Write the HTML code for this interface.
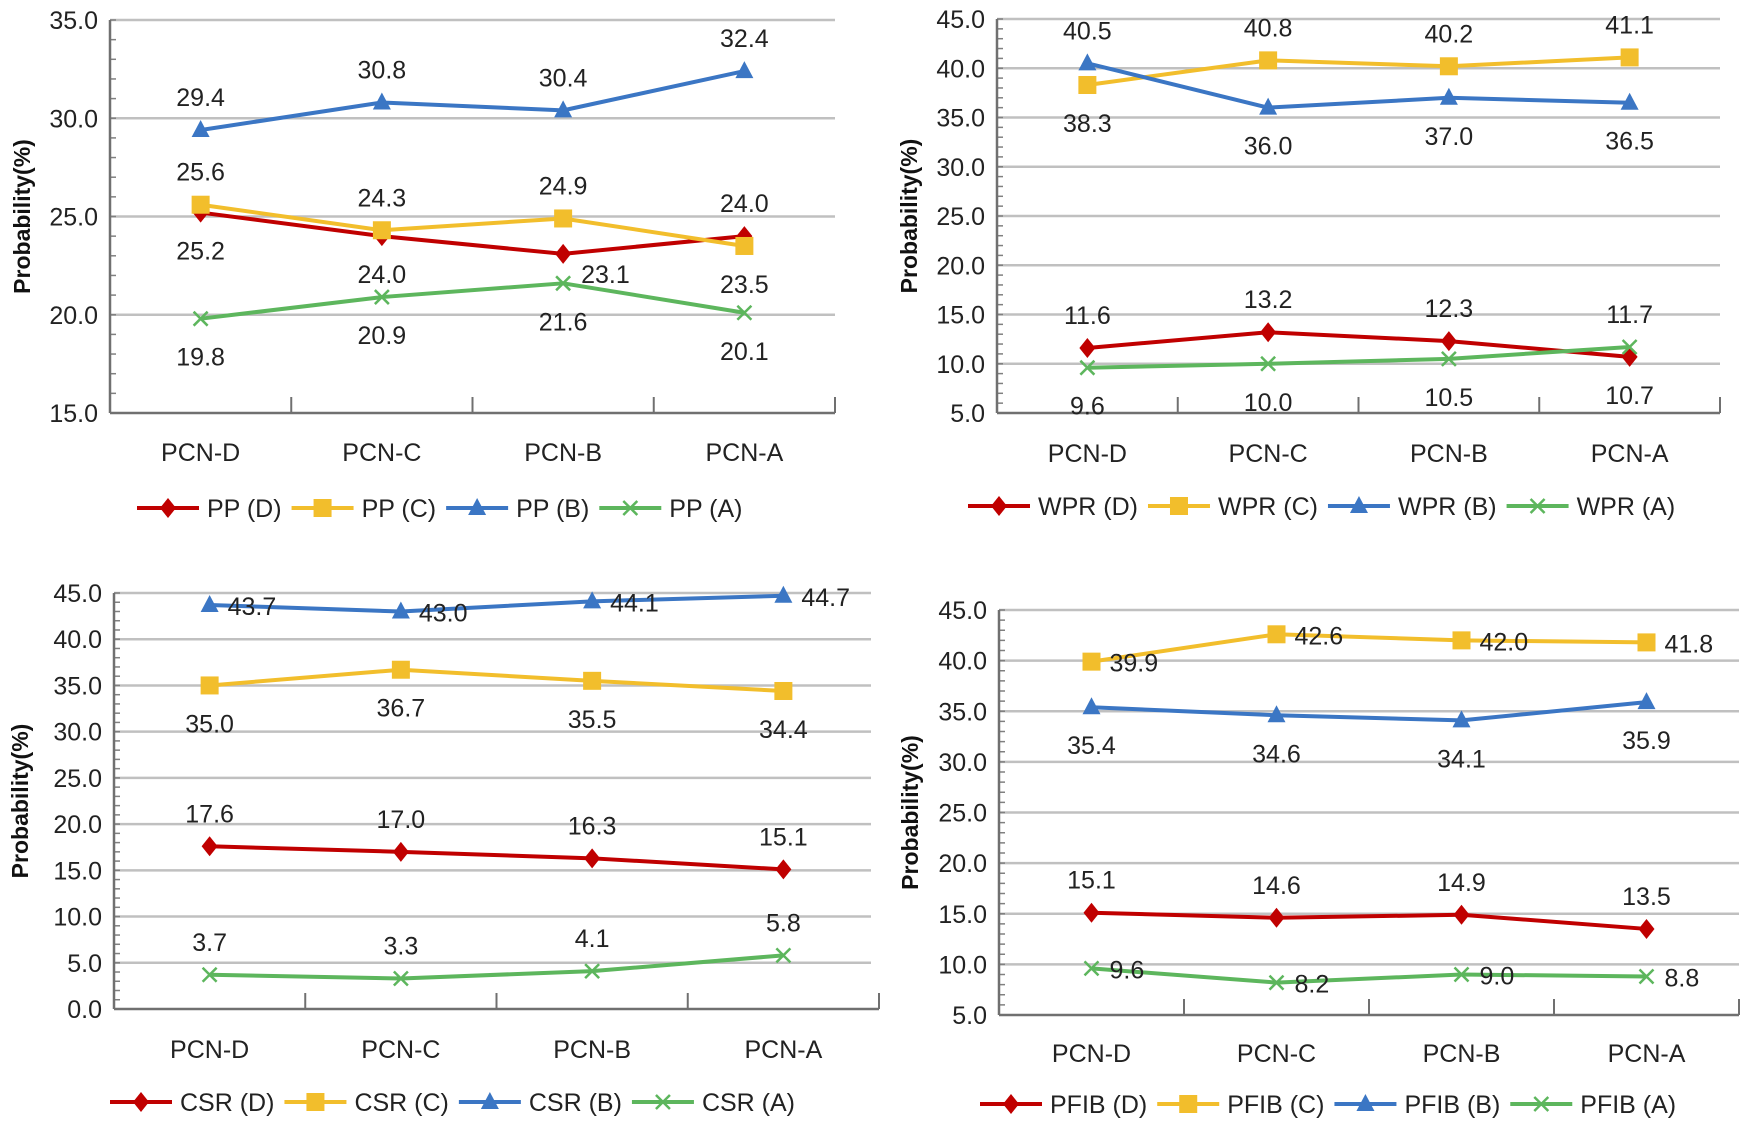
<!DOCTYPE html>
<html><head><meta charset="utf-8">
<style>
html,body{margin:0;padding:0;background:#fff;}
svg{display:block;font-family:"Liberation Sans",sans-serif;}
</style></head>
<body>
<svg id="fig" width="1742" height="1133" viewBox="0 0 1742 1133" xmlns="http://www.w3.org/2000/svg"></svg>
<script>
const categories = ["PCN-D","PCN-C","PCN-B","PCN-A"];
const seriesKeys = ["D","C","B","A"];
// chart 1 PP
const ppD = [25.2, 24.0, 23.1, 24.0];
const ppC = [25.6, 24.3, 24.9, 23.5];
const ppB = [29.4, 30.8, 30.4, 32.4];
const ppA = [19.8, 20.9, 21.6, 20.1];
const ppTicks = ["15.0","20.0","25.0","30.0","35.0"];
// chart 2 WPR
const wprD = [11.6, 13.2, 12.3, 10.7];
const wprC = [38.3, 40.8, 40.2, 41.1];
const wprB = [40.5, 36.0, 37.0, 36.5];
const wprA = [9.6, 10.0, 10.5, 11.7];
const wprTicks = ["5.0","10.0","15.0","20.0","25.0","30.0","35.0","40.0","45.0"];
// chart 3 CSR
const csrD = [17.6, 17.0, 16.3, 15.1];
const csrC = [35.0, 36.7, 35.5, 34.4];
const csrB = [43.7, 43.0, 44.1, 44.7];
const csrA = [3.7, 3.3, 4.1, 5.8];
const csrTicks = ["0.0","5.0","10.0","15.0","20.0","25.0","30.0","35.0","40.0","45.0"];
// chart 4 PFIB
const pfibD = [15.1, 14.6, 14.9, 13.5];
const pfibC = [39.9, 42.6, 42.0, 41.8];
const pfibB = [35.4, 34.6, 34.1, 35.9];
const pfibA = [9.6, 8.2, 9.0, 8.8];
const pfibTicks = ["5.0","10.0","15.0","20.0","25.0","30.0","35.0","40.0","45.0"];

const COLORS = {D:"#C00000", C:"#F2BE2C", B:"#3B76C4", A:"#5DB65D"};
const FS = 25;
const NS = "http://www.w3.org/2000/svg";
const svg = document.getElementById("fig");
function el(tag, attrs, parent){const e=document.createElementNS(NS,tag);for(const k in attrs)e.setAttribute(k,attrs[k]);(parent||svg).appendChild(e);return e;}

function marker(g, key, x, y){
  const c = COLORS[key];
  let m;
  if(key==="D") m = el("polygon",{points:`${x},${y-10} ${x+8},${y} ${x},${y+10} ${x-8},${y}`,fill:c},g);
  else if(key==="C") m = el("rect",{x:x-9,y:y-9,width:18,height:18,fill:c},g);
  else if(key==="B") m = el("polygon",{points:`${x},${y-10} ${x+9},${y+7} ${x-9},${y+7}`,fill:c},g);
  else { m = el("path",{d:`M${x-7},${y-7}L${x+7},${y+7}M${x-7},${y+7}L${x+7},${y-7}`,stroke:c,"stroke-width":2.5,fill:"none"},g); }
  return m;
}

function drawChart(cfg){
  const g = el("g",{});
  
  
  const yScale = v => cfg.y1 - (v - cfg.min)/(cfg.max-cfg.min)*(cfg.y1-cfg.y0);
  const band = (cfg.x1-cfg.x0)/categories.length;
  const xScale = i => cfg.x0 + band*(i+0.5);
  cfg.ticks.forEach(t=>{
    const v=parseFloat(t), y=yScale(v);
    if(v!==cfg.min){
      const gl=el("line",{x1:cfg.x0,x2:cfg.gx1||cfg.x1,y1:y,y2:y,stroke:"#C0C0C0","stroke-width":2.5},g);
      
      
    }
    const tl=el("text",{x:cfg.x0-12,y:y+9,"text-anchor":"end","font-size":FS,fill:"#222"},g);
    tl.textContent=t;
    
    
  });
  for(let v=cfg.min; v<=cfg.max+1e-6; v+=cfg.minor){
    const y=yScale(v);
    el("line",{x1:cfg.x0,x2:cfg.x0+6,y1:y,y2:y,stroke:"#808080","stroke-width":1.5},g);
  }
  const ya=el("line",{x1:cfg.x0,x2:cfg.x0,y1:cfg.y0,y2:cfg.y1,stroke:"#707070","stroke-width":2.5},g);
  
  
  const xa=el("line",{x1:cfg.x0,x2:cfg.x1,y1:cfg.y1,y2:cfg.y1,stroke:"#707070","stroke-width":2.5},g);
  
  
  for(let i=1;i<=categories.length;i++){
    const x=cfg.x0+band*i;
    el("line",{x1:x,x2:x,y1:cfg.y1-16,y2:cfg.y1,stroke:"#707070","stroke-width":2},g);
  }
  categories.forEach((c,i)=>{
    const t=el("text",{x:xScale(i),y:cfg.catY+9,"text-anchor":"middle","font-size":FS,fill:"#222"},g);
    t.textContent=c;
    
    
  });
  const yt=el("text",{x:0,y:0,transform:`translate(${cfg.titleX},${(cfg.y0+cfg.y1)/2}) rotate(-90)`,"text-anchor":"middle","font-size":23,"font-weight":"bold",fill:"#111"},g);
  yt.textContent="Probability(%)";
  
  
  seriesKeys.forEach((k,si)=>{
    const vals=cfg.series[si];
    const sg=el("g",{},g);
    
    
    const pts=vals.map((v,i)=>xScale(i)+","+yScale(v)).join(" ");
    const pl=el("polyline",{points:pts,fill:"none",stroke:COLORS[k],"stroke-width":4,"stroke-linejoin":"round"},sg);
    
    
    vals.forEach((v,i)=>{
      const x=xScale(i), y=yScale(v);
      const m=marker(sg,k,x,y);
      
      
      const pos=cfg.pos[si][i];
      let lx=x, ly=y, anchor="middle";
      if(pos==="t"){ly=y-24;}
      else if(pos==="b"){ly=y+47;}
      else if(pos==="r"){lx=x+18;ly=y+10;anchor="start";}
      else if(pos==="rb"){lx=x+18;ly=y+29;anchor="start";}
      const lt=el("text",{x:lx,y:ly,"text-anchor":anchor,"font-size":FS,fill:"#222"},sg);
      lt.textContent=v.toFixed(1);
      
      
    });
  });
  const lg=el("g",{},g);
  
  
  let lx=cfg.legX;
  seriesKeys.forEach(k=>{
    const eg=el("g",{},lg);
    
    
    el("line",{x1:lx,x2:lx+62,y1:cfg.legY,y2:cfg.legY,stroke:COLORS[k],"stroke-width":4},eg);
    marker(eg,k,lx+31,cfg.legY);
    const t=el("text",{x:lx+70,y:cfg.legY+9,"font-size":FS,fill:"#222"},eg);
    t.textContent=`${cfg.prefix} (${k})`;
    lx += 70 + t.getComputedTextLength() + 10;
  });
}

drawChart({name:"chart-pp",prefix:"PP",x0:110,x1:835,y0:20,y1:413,min:15,max:35,minor:1,ticks:ppTicks,
  series:[ppD,ppC,ppB,ppA],pos:[["b","b","rb","t"],["t","t","t","b"],["t","t","t","t"],["b","b","b","b"]],
  catY:452,legY:508,legX:137,titleX:30});
drawChart({name:"chart-wpr",prefix:"WPR",x0:997,x1:1720,y0:19,y1:413,min:5,max:45,minor:1,ticks:wprTicks,
  series:[wprD,wprC,wprB,wprA],pos:[["t","t","t","b"],["b","t","t","t"],["t","b","b","b"],["b","b","b","t"]],
  catY:453,legY:506,legX:968,titleX:917});
drawChart({name:"chart-csr",prefix:"CSR",x0:114,x1:879,gx1:871,y0:593,y1:1009,min:0,max:45,minor:1,ticks:csrTicks,
  series:[csrD,csrC,csrB,csrA],pos:[["t","t","t","t"],["b","b","b","b"],["r","r","r","r"],["t","t","t","t"]],
  catY:1049,legY:1102,legX:110,titleX:28});
drawChart({name:"chart-pfib",prefix:"PFIB",x0:999,x1:1739,y0:610,y1:1015,min:5,max:45,minor:1,ticks:pfibTicks,
  series:[pfibD,pfibC,pfibB,pfibA],pos:[["t","t","t","t"],["r","r","r","r"],["b","b","b","b"],["r","r","r","r"]],
  catY:1053,legY:1104,legX:980,titleX:918});
</script>
</body></html>
